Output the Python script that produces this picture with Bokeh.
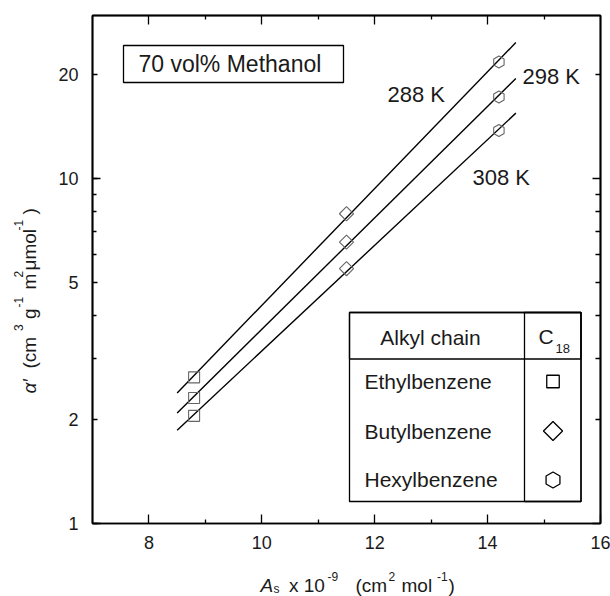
import numpy as np
from bokeh.plotting import figure
from bokeh.layouts import row, column
from bokeh.models import (Range1d, LinearAxis, LogAxis, FixedTicker,
                          BasicTickFormatter, Label, BoxAnnotation)
from bokeh.embed import file_html
from bokeh.resources import INLINE

FONT = "Liberation Sans"
INK = "#1a1a1a"

# Molecular contact surface area of each solute, A_s x 10^-9 (cm^2 mol^-1)
area = [8.8, 11.5, 14.2]
solutes = ["Ethylbenzene", "Butylbenzene", "Hexylbenzene"]
temperatures = ["288 K", "298 K", "308 K"]

# alpha' (cm^3 g^-1 m^2 umol^-1) on C18, 70 vol% methanol
alpha_288 = [2.65, 7.89, 21.7]
alpha_298 = [2.31, 6.53, 17.2]
alpha_308 = [2.05, 5.47, 13.75]

fit_range = [8.5, 14.5]

x_major = [8, 10, 12, 14, 16]
x_minor = [9, 11, 13, 15]
y_major = [1, 2, 5, 10, 20]
y_minor = [3, 4, 6, 7, 8, 9, 30]
y_decades = [1, 10]

# Page geometry (pixels): y-title strip on the left, x-title strip at the bottom
W, H = 610, 596
YT_W = 44            # width of the y-title strip
XT_H = 30            # height of the x-title strip
FR_L, FR_R, FR_T, FR_B = 92, 600, 15, 523   # plot frame edges on the page
X0, X1 = 7, 16
Y0, Y1 = 1, 29.6

main_w, main_h = W - YT_W, H - XT_H
p = figure(width=main_w, height=main_h,
           x_range=Range1d(X0, X1), y_range=Range1d(Y0, Y1),
           y_axis_type="log", x_axis_location=None, y_axis_location=None,
           output_backend="svg", toolbar_location=None,
           min_border_left=FR_L - YT_W, min_border_right=W - FR_R,
           min_border_top=FR_T, min_border_bottom=main_h - FR_B)
p.xgrid.visible = False
p.ygrid.visible = False
p.outline_line_color = "black"
p.outline_line_width = 1.5
p.background_fill_color = "white"
p.border_fill_color = "white"


def tick_style(ax, major_in=0, minor_in=0):
    ax.axis_line_color = "black"
    ax.axis_line_width = 1.5
    ax.major_tick_in = major_in
    ax.major_tick_out = 0
    ax.minor_tick_in = minor_in
    ax.minor_tick_out = 0
    ax.major_tick_line_width = 1.3
    ax.minor_tick_line_width = 1.3
    ax.major_tick_line_color = "black"
    ax.minor_tick_line_color = "black"
    ax.major_label_standoff = 0
    ax.major_label_text_font = FONT
    ax.major_label_text_font_size = "18px"
    ax.major_label_text_color = INK
    return ax


def bare_axis(cls, marks, length):
    # tick marks only: every mark is a minor tick, so no labels are drawn
    return tick_style(cls(ticker=FixedTicker(ticks=[], minor_ticks=marks)), 0, length)


# Bottom: labelled axis
xb = tick_style(LinearAxis(ticker=FixedTicker(ticks=x_major, minor_ticks=x_minor)), 9, 4)
xb.major_label_standoff = 12
p.add_layout(xb, "below")

# Left: long decade ticks next to the frame, then the labelled axis
p.add_layout(bare_axis(LogAxis, y_decades, 8), "left")
yl = tick_style(LogAxis(ticker=FixedTicker(ticks=y_major, minor_ticks=y_minor),
                        formatter=BasicTickFormatter()), 5, 4)
yl.major_label_standoff = 14
p.add_layout(yl, "left")

# Top and right: mirrored tick marks without labels
p.add_layout(bare_axis(LinearAxis, [t for t in x_major if t < X1], 9), "above")
p.add_layout(bare_axis(LinearAxis, x_minor, 4), "above")
p.add_layout(bare_axis(LogAxis, y_decades, 8), "right")
p.add_layout(bare_axis(LogAxis, [t for t in y_major + y_minor if t not in y_decades], 5), "right")

# Regression lines, log(alpha') linear in A_s
for series in (alpha_288, alpha_298, alpha_308):
    slope, icpt = np.polyfit(area, np.log10(series), 1)
    xs = np.array(fit_range, dtype=float)
    p.line(xs, 10 ** (icpt + slope * xs), line_color="black", line_width=1.4)

# Measured points, one marker shape per solute
marker_styles = [("square", 0.0, 11), ("square", np.pi / 4, 10), ("hex", np.pi / 2, 12)]
for i, (mk, ang, sz) in enumerate(marker_styles):
    p.scatter([area[i]] * 3, [alpha_288[i], alpha_298[i], alpha_308[i]],
              marker=mk, angle=ang, size=sz, fill_color=None,
              line_color="#666666", line_width=1.1)


# Annotation helpers, positions given in page pixels (y = middle of the text)
def to_screen(px, py):
    return px - FR_L, FR_B - py


def to_data(px, py):
    x = X0 + (px - FR_L) / (FR_R - FR_L) * (X1 - X0)
    ly = np.log10(Y0) + (FR_B - py) / (FR_B - FR_T) * (np.log10(Y1) - np.log10(Y0))
    return x, 10 ** ly


def label(text, px, py, size, style="normal", align="left"):
    sx, sy = to_screen(px, py)
    p.add_layout(Label(x=sx, y=sy, x_units="screen", y_units="screen", text=text,
                       text_font=FONT, text_font_size=f"{size}px",
                       text_font_style=style, text_color=INK,
                       text_align=align, text_baseline="middle"))


def box(left, top, right, bottom):
    l, t = to_screen(left, top)
    r, b = to_screen(right, bottom)
    p.add_layout(BoxAnnotation(left=l, right=r, top=t, bottom=b,
                               left_units="screen", right_units="screen",
                               top_units="screen", bottom_units="screen",
                               fill_color=None, fill_alpha=0,
                               line_color="black", line_alpha=1.0, line_width=1.3))


# Mobile phase tag
box(123, 45, 343, 82)
label("70 vol% Methanol", 138, 63, 23)

# Temperature of each line
for text, (px, py) in zip(temperatures, [(387, 93.5), (522, 76), (472, 177)]):
    label(text, px, py, 22)

# Solute / stationary phase key
box(349, 312, 580.5, 501)
box(349, 312, 580.5, 358.5)
box(524, 312, 580.5, 501)
label("Alkyl chain", 430, 336.5, 21, align="center")
label("C", 538, 335.5, 21)
label("18", 555, 348, 13)
for name, ry in zip(solutes, [381, 431, 479]):
    label(name, 364, ry, 21)
key_styles = [("square", 0.0, 12.5), ("square", np.pi / 4, 13.5), ("hex", np.pi / 2, 16)]
for (mk, ang, sz), cy in zip(key_styles, [381, 430.5, 479.5]):
    kx, ky = to_data(552.5, cy)
    p.scatter([kx], [ky], marker=mk, angle=ang, size=sz, fill_color=None,
              line_color="black", line_width=1.3)


def title_strip(width, height, page_left, page_top, fl, fr, ft, fb):
    # text-only panel; its ranges are page pixels so labels are placed directly
    f = figure(width=width, height=height,
               x_range=Range1d(fl, fr), y_range=Range1d(fb, ft),
               x_axis_location=None, y_axis_location=None,
               output_backend="svg", toolbar_location=None,
               min_border_left=fl - page_left, min_border_right=page_left + width - fr,
               min_border_top=ft - page_top, min_border_bottom=page_top + height - fb)
    f.grid.visible = False
    f.outline_line_color = None
    f.background_fill_color = "white"
    f.border_fill_color = "white"

    def put(text, px, py, size, style="normal", angle=0.0):
        f.add_layout(Label(x=px, y=py, text=text, text_font=FONT,
                           text_font_size=f"{size}px", text_font_style=style,
                           text_color=INK, text_align="left",
                           text_baseline="middle", angle=angle))
    return f, put


# x-axis title: A_s x 10^-9 (cm^2 mol^-1)
xt_fig, xput = title_strip(main_w, XT_H, YT_W, main_h, FR_L, FR_R, main_h, H)
xput("A", 260, 585, 19, style="italic")
xput("s", 273, 588.5, 12)
xput("x 10", 288.5, 585, 19)
xput("-9", 327, 576, 12)
xput("(cm", 355, 585, 19)
xput("2", 388, 576, 12)
xput("mol", 401, 585, 19)
xput("-1", 436.5, 576, 12)
xput(")", 448, 585, 19)

# y-axis title: alpha' (cm^3 g^-1 m^2 umol^-1), read bottom to top
yt_fig, yput = title_strip(YT_W, H, 0, 0, 0, YT_W, FR_T, FR_B)
up = np.pi / 2
main_x, sup_x = 28.5, 18
yput("α′", main_x, 393, 19, style="italic", angle=up)
yput("(cm", main_x, 368, 19, angle=up)
yput("3", sup_x, 330.5, 12, angle=up)
yput("g", main_x, 318.5, 19, angle=up)
yput("-1", sup_x, 307, 12, angle=up)
yput("m", main_x, 289, 19, angle=up)
yput("2", sup_x, 277, 12, angle=up)
yput("μmol", main_x, 270, 19, angle=up)
yput("-1", sup_x, 230, 12, angle=up)
yput(")", main_x, 214, 19, angle=up)

page = row(yt_fig, column(p, xt_fig, spacing=0), spacing=0)
open("out.html", "w").write(file_html(page, INLINE))
